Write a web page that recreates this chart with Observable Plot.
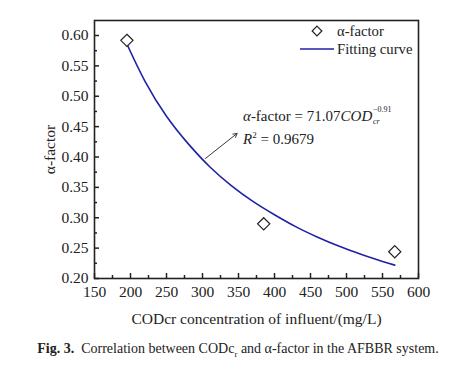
<!DOCTYPE html>
<html><head><meta charset="utf-8">
<script src="https://cdn.jsdelivr.net/npm/d3@7"></script>
<script src="https://cdn.jsdelivr.net/npm/@observablehq/plot@0.6"></script>
<style>
body{margin:0;background:#fff;}
#wrap{position:relative;width:476px;}
#cap{font-family:"Times New Roman","Liberation Serif","DejaVu Serif",serif;font-size:14px;text-align:center;width:476px;margin-top:11px;color:#222;}
</style></head>
<body><div id="wrap"></div><div id="cap"><b>Fig. 3.</b>&nbsp; Correlation between CODc<sub style="font-size:9px">r</sub> and α-factor in the AFBBR system.</div>
<script>
// measured data
const codX = [195, 385, 567];
const alphaY = [0.592, 0.290, 0.244];
// fitting curve
const fitX = [195, 220, 250, 280, 310, 340, 370, 400, 430, 460, 490, 520, 550, 567];
const fitY = [0.586, 0.525, 0.467, 0.422, 0.384, 0.353, 0.327, 0.305, 0.285, 0.268, 0.253, 0.240, 0.228, 0.222];
const xTicks = [150, 200, 250, 300, 350, 400, 450, 500, 550, 600];
const xMinor = [175, 225, 275, 325, 375, 425, 475, 525, 575];
const yTicks = [0.20, 0.25, 0.30, 0.35, 0.40, 0.45, 0.50, 0.55, 0.60];
const yMinor = [0.225, 0.275, 0.325, 0.375, 0.425, 0.475, 0.525, 0.575];
// annotation arrow (data units)
const arrowFrom = [304, 0.3975];
const arrowTo = [348, 0.4387];

const FONT = '"Times New Roman", "Liberation Serif", "DejaVu Serif", serif';
const pts = codX.map((x, i) => ({x, y: alphaY[i]}));
const fit = fitX.map((x, i) => ({x, y: fitY[i]}));
const ink = "#222";
const blue = "#1f22a5";
const W = 476, H = 330, mL = 94, mR = 58, mT = 20, mB = 52;
const innerW = W - mL - mR, innerH = H - mT - mB;

const plot = Plot.plot({
  width: W, height: H,
  marginLeft: mL, marginRight: mR, marginTop: mT, marginBottom: mB,
  style: {fontFamily: FONT, fontSize: "15.5px", color: ink, background: "transparent"},
  x: {domain: [150, 600]},
  y: {domain: [0.2, 0.6247]},
  marks: [
    Plot.axisX(xTicks, {tickSize: 0, tickPadding: 7, tickFormat: d => d, label: "CODcr concentration of influent/(mg/L)", labelAnchor: "center", labelOffset: 45, labelArrow: false, fontSize: 15.5}),
    Plot.axisY(yTicks, {tickSize: 0, tickPadding: 6, tickFormat: d => d.toFixed(2), label: "α-factor", labelAnchor: "center", labelOffset: 51, labelArrow: false, fontSize: 15.5}),
    Plot.tickX(xTicks, {x: d => d, stroke: ink, strokeWidth: 1.5, insetTop: innerH - 5}),
    Plot.tickX(xMinor, {x: d => d, stroke: ink, strokeWidth: 1.5, insetTop: innerH - 3}),
    Plot.tickY(yTicks, {y: d => d, stroke: ink, strokeWidth: 1.5, insetRight: innerW - 5}),
    Plot.tickY(yMinor, {y: d => d, stroke: ink, strokeWidth: 1.5, insetRight: innerW - 3}),
    Plot.line(fit, {x: "x", y: "y", curve: "natural", stroke: blue, strokeWidth: 1.6}),
    Plot.dot(pts, {x: "x", y: "y", symbol: "diamond2", r: 5.5, stroke: ink, fill: "white", strokeWidth: 1.2}),
    Plot.arrow([{x1: arrowFrom[0], y1: arrowFrom[1], x2: arrowTo[0], y2: arrowTo[1]}], {x1: "x1", y1: "y1", x2: "x2", y2: "y2", stroke: ink, strokeWidth: 0.9, headLength: 7, bend: 0}),
    Plot.frame({stroke: ink, strokeWidth: 1.6})
  ]
});
document.getElementById("wrap").appendChild(plot);

// legend + formula annotation
const svg = d3.select(plot);
const g = svg.append("g").attr("font-family", FONT).attr("text-anchor", "start").attr("fill", ink);
g.append("path").attr("d", d3.symbol(d3.symbolDiamond2, 60)()).attr("transform", "translate(317,31)").attr("fill", "white").attr("stroke", ink).attr("stroke-width", 1.2);
g.append("text").attr("x", 337).attr("y", 36).attr("font-size", 14.7).text("α-factor");
g.append("line").attr("x1", 300).attr("x2", 334).attr("y1", 49).attr("y2", 49).attr("stroke", blue).attr("stroke-width", 1.6);
g.append("text").attr("x", 337).attr("y", 54).attr("font-size", 14.7).text("Fitting curve");

const t1 = g.append("text").attr("x", 243).attr("y", 121).attr("font-size", 15);
t1.append("tspan").attr("font-style", "italic").text("α");
t1.append("tspan").text("-factor = 71.07");
t1.append("tspan").attr("font-style", "italic").text("COD");
const end = t1.node().getBBox();
const ex = end.x + end.width + 0.5;
g.append("text").attr("x", ex).attr("y", 124).attr("font-size", 8).attr("font-style", "italic").text("cr");
g.append("text").attr("x", ex).attr("y", 112).attr("font-size", 8).text("−0.91");
const t2 = g.append("text").attr("x", 243).attr("y", 144).attr("font-size", 15);
t2.append("tspan").attr("font-style", "italic").text("R");
t2.append("tspan").attr("font-size", 9).attr("dy", -6).text("2");
t2.append("tspan").attr("dy", 6).text(" = 0.9679");
</script>
</body></html>
